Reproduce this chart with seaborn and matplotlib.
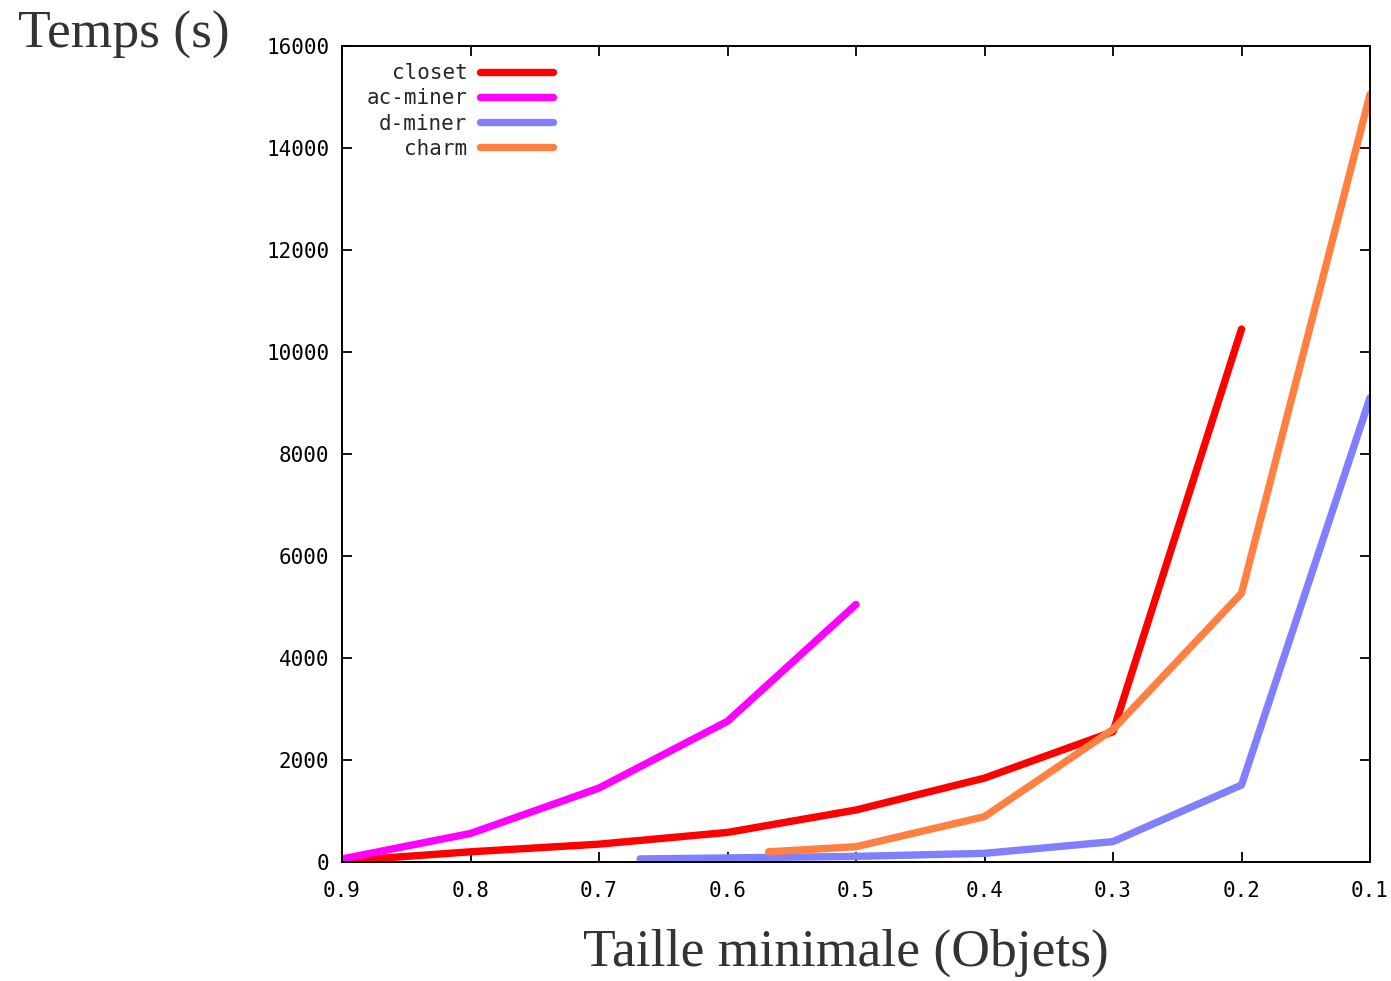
import seaborn as sns
import matplotlib.pyplot as plt
import pandas as pd

# temps d'execution
closet_x = [0.9, 0.8, 0.7, 0.6, 0.5, 0.4, 0.3, 0.2]
closet_y = [20, 200, 350, 580, 1020, 1645, 2555, 10450]
acminer_x = [0.9, 0.8, 0.7, 0.6, 0.5]
acminer_y = [60, 560, 1450, 2760, 5050]
dminer_x = [0.668, 0.6, 0.5, 0.4, 0.3, 0.2, 0.1]
dminer_y = [60, 80, 110, 170, 400, 1510, 9100]
charm_x = [0.568, 0.5, 0.4, 0.3, 0.2, 0.1]
charm_y = [200, 300, 890, 2600, 5270, 15050]

names = ["closet", "ac-miner", "d-miner", "charm"]
colors = ["#ff0000", "#ff00ff", "#8080ff", "#ff8040"]
x_ticks = [0.9, 0.8, 0.7, 0.6, 0.5, 0.4, 0.3, 0.2, 0.1]
y_ticks = [0, 2000, 4000, 6000, 8000, 10000, 12000, 14000, 16000]

rows = []
for name, xs, ys in zip(names, [closet_x, acminer_x, dminer_x, charm_x],
                        [closet_y, acminer_y, dminer_y, charm_y]):
    for x, y in zip(xs, ys):
        rows.append({"taille": x, "temps": y, "algo": name})
df = pd.DataFrame(rows)

sns.set_style("ticks")
plt.rcParams["font.family"] = ["DejaVu Sans Mono"]

fig = plt.figure(figsize=(13.91, 9.81), dpi=100)
ax = fig.add_axes([342 / 1391, 1 - 862 / 981, 1028 / 1391, 816 / 981])

sns.lineplot(data=df, x="taille", y="temps", hue="algo", hue_order=names,
             palette=colors, linewidth=5.3, estimator=None, sort=True, ax=ax)

ax.set_xlim(0.9, 0.1)
ax.set_ylim(0, 16000)
ax.set_xticks(x_ticks)
ax.set_xticklabels([f"{v:.1f}" for v in x_ticks])
ax.set_yticks(y_ticks)
ax.set_yticklabels([str(v) for v in y_ticks])
ax.tick_params(direction="in", length=7, width=1.3, top=True, right=True,
               labelsize=15, colors="black", pad=9)
ax.tick_params(axis="x", pad=14)
for s in ax.spines.values():
    s.set_linewidth(1.4)
    s.set_color("black")
ax.set_xlabel("")
ax.set_ylabel("")

leg = ax.legend(loc="upper right", bbox_to_anchor=(0.205, 0.979), frameon=False,
                markerfirst=False, fontsize=15, handlelength=3.5,
                handletextpad=0.6, labelspacing=0.25, borderpad=0, borderaxespad=0)
for line in leg.get_lines():
    line.set_linewidth(5.3)

fig.text(18 / 1391, 1 - 48 / 981, "Temps (s)", family="Liberation Serif",
         fontsize=38.5, color="#333333", va="baseline", ha="left")
fig.text(846 / 1391, 1 - 966 / 981, "Taille minimale (Objets)", family="Liberation Serif",
         fontsize=38.5, color="#333333", va="baseline", ha="center")

fig.savefig("out.png", dpi=100, facecolor="white")
